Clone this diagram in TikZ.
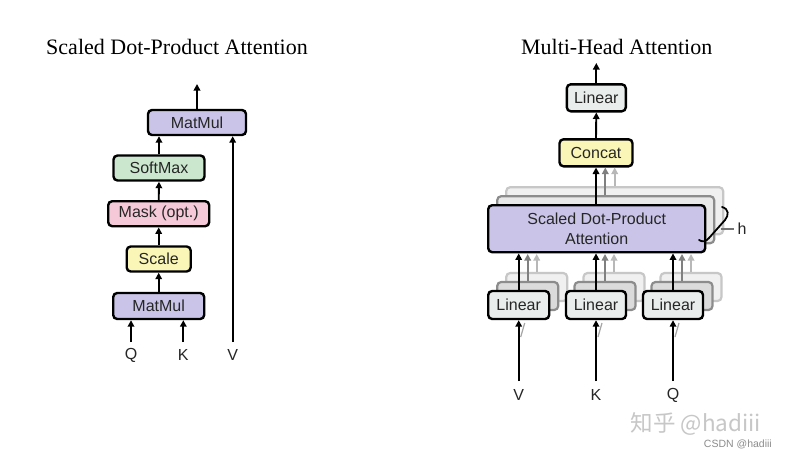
\documentclass[tikz,border=0pt]{standalone}
\usepackage{fontspec}
\setmainfont{Liberation Sans}
\newfontfamily\titlefont{Liberation Serif}
\newfontfamily\cjkfont{Noto Sans CJK SC}
\usetikzlibrary{arrows.meta}
\definecolor{cpurple}{HTML}{CAC5E8}
\definecolor{cgreen}{HTML}{CBE8CF}
\definecolor{cpink}{HTML}{F6C9D9}
\definecolor{cyellow}{HTML}{FAF6B8}
\definecolor{cgray}{HTML}{E9EDEC}
\definecolor{txt}{HTML}{262626}
\tikzset{
  blk/.style={draw=black, line width=2.4pt, rounded corners=4pt, inner sep=0pt,
    font=\fontsize{16}{20}\selectfont, text=txt, align=center},
  bk1/.style={draw=black!45, line width=2.2pt, rounded corners=4pt, inner sep=0pt, fill=#1},
  bk2/.style={draw=black!22, line width=2.2pt, rounded corners=4pt, inner sep=0pt, fill=#1},
  arr/.style={line width=1.9pt, -{Triangle[width=6.5pt,length=6.5pt]}},
  garr/.style={arr, draw=black!50, -{Triangle[width=6.5pt,length=6.5pt,fill=black!50]}},
  larr/.style={arr, draw=black!28, -{Triangle[width=6.5pt,length=6.5pt,fill=black!28]}},
  lbl/.style={font=\fontsize{16}{20}\selectfont, text=txt, inner sep=0pt},
  ttl/.style={font=\titlefont\fontsize{22}{24}\selectfont, inner sep=0pt}
}
\begin{document}
\begin{tikzpicture}[x=1pt,y=-1pt]
\useasboundingbox[fill=white] (0,0) rectangle (786,458);

% ---------- Left: Scaled Dot-Product Attention ----------
\node[ttl] (t1) at (177,47) {Scaled Dot-Product Attention};
\node[blk, fill=cpurple, minimum width=98pt, minimum height=25pt] (mm2) at (197,122.5) {MatMul};
\node[blk, fill=cgreen, minimum width=91pt, minimum height=25pt] (soft) at (159,168) {SoftMax};
\node[blk, fill=cpink, minimum width=101pt, minimum height=25pt] (mask) at (158.7,213.7) {Mask (opt.)};
\node[blk, fill=cyellow, minimum width=64pt, minimum height=25pt] (scale) at (158.7,259) {Scale};
\node[blk, fill=cpurple, minimum width=91pt, minimum height=26pt] (mm1) at (158.7,306) {MatMul};
\node[lbl] (q1) at (131,355) {Q};
\node[lbl] (k1) at (183.3,355) {K};
\node[lbl] (v1) at (232.7,355) {V};
\coordinate (o1) at (197,84);
\coordinate (qs) at (131,342);
\coordinate (ks) at (183.3,342);
\coordinate (vs) at (232.7,342);
\draw[arr] (mm2.north) -- (o1);
\draw[arr] (soft.north) -- (soft.north |- mm2.south);
\draw[arr] (mask.north) -- (soft.south);
\draw[arr] (scale.north) -- (mask.south);
\draw[arr] (mm1.north) -- (scale.south);
\draw[arr] (qs) -- (qs |- mm1.south);
\draw[arr] (ks) -- (ks |- mm1.south);
\draw[arr] (vs) -- (vs |- mm2.south);

% ---------- Right: Multi-Head Attention ----------
\node[ttl] (t2) at (616.7,47) {Multi-Head Attention};

% back layers of attention
\node[bk2=black!6, minimum width=217pt, minimum height=47pt] (att3) at (614.7,210.7) {};
\node[bk1=cpurple!35!black!12, minimum width=217pt, minimum height=47pt] (att2) at (605.7,219.7) {};
% back layers of linear
\foreach \cx/\nm in {518.7/a,596/b,673/c}{
  \node[bk2=black!6, minimum width=61pt, minimum height=28pt] (l3\nm) at (\cx+18,287) {};
  \node[bk1=black!14, minimum width=61pt, minimum height=28pt] (l2\nm) at (\cx+9,296) {};
}
% gray arrows from back linear layers to attention
\foreach \cx/\nm in {518.7/a,596/b,673/c}{
  \draw[larr] (l3\nm.north) -- (\cx+18,254);
  \draw[garr] (l2\nm.north) -- (\cx+9,254);
}

\node[blk, fill=cpurple, minimum width=217pt, minimum height=47pt] (att) at (596.7,228.7)
  {Scaled Dot-Product\\Attention};
\node[blk, fill=cgray, minimum width=61pt, minimum height=28pt] (lin1) at (518.7,305) {Linear};
\node[blk, fill=cgray, minimum width=60pt, minimum height=28pt] (lin2) at (596,305) {Linear};
\node[blk, fill=cgray, minimum width=60pt, minimum height=28pt] (lin3) at (673,305) {Linear};
\node[blk, fill=cyellow, minimum width=73pt, minimum height=27pt] (concat) at (596,152.8) {Concat};
\node[blk, fill=cgray, minimum width=59pt, minimum height=27pt] (linT) at (596.3,97.8) {Linear};

\node[lbl] (v2) at (518.7,395) {V};
\node[lbl] (k2) at (596,395) {K};
\node[lbl] (q2) at (673,395) {Q};
\node[lbl] (h) at (742,229) {h};

\coordinate (o2) at (596.3,63);
\coordinate (vi) at (518.7,381);
\coordinate (ki) at (596,381);
\coordinate (qi) at (673,381);

\draw[arr] (linT.north) -- (o2);
\draw[arr] (concat.north) -- (linT.south);
\draw[arr] (att.north -| concat.north) -- (concat.south);
\draw[garr] (att2.north -| 605.3,0) -- (605.3,167.5);
\draw[larr] (att3.north -| 614.7,0) -- (614.7,167.5);
\draw[arr] (lin1.north) -- (lin1.north |- att.south);
\draw[arr] (lin2.north) -- (lin2.north |- att.south);
\draw[arr] (lin3.north) -- (lin3.north |- att.south);
\draw[arr] (vi) -- (lin1.south);
\draw[arr] (ki) -- (lin2.south);
\draw[arr] (qi) -- (lin3.south);

% faint shadow marks below linear boxes
\foreach \cx in {518.7,596,673}{
  \draw[black!35, line width=1.2pt] (\cx+2,337) -- (\cx+6,323);
}

% h bracket
\draw[line width=1.8pt, line cap=round] (722,207) .. controls (729,209) and (729,215) .. (725,220)
  -- (709,238) .. controls (706,242) and (702,242) .. (699,240);
\draw[black!55, line width=1.2pt] (721,229) -- (734,229);

% watermark
\node[font=\cjkfont\fontsize{22.5}{24}\selectfont, text=black!22, inner sep=0pt] (wm) at (696,424) {知乎 @hadiii};
\node[font=\fontsize{10.5}{12}\selectfont, text=black!45, inner sep=0pt, anchor=east] (wm2) at (772,444.5) {CSDN @hadiii};
\end{tikzpicture}
\end{document}
